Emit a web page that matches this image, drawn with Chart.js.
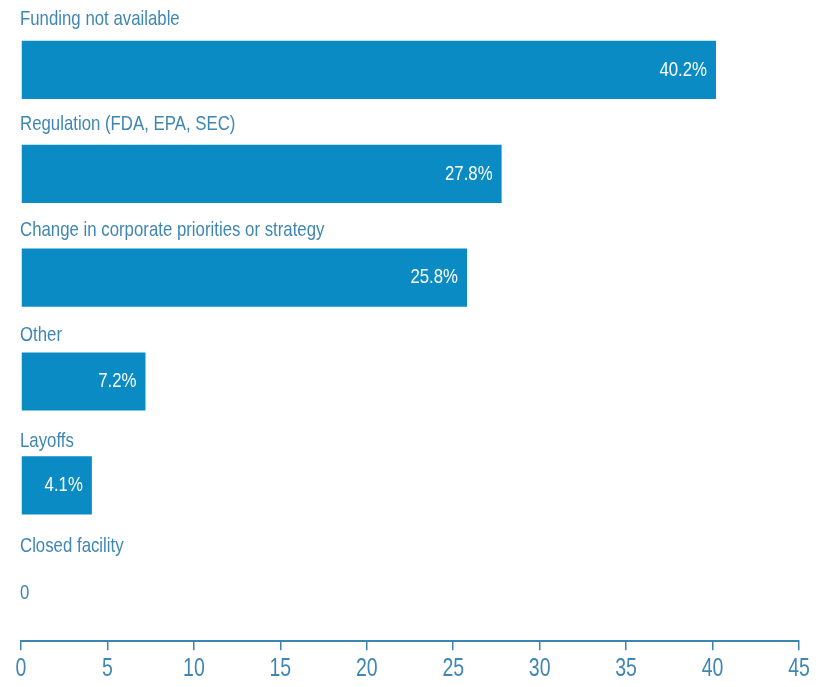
<!DOCTYPE html>
<html>
<head>
<meta charset="utf-8">
<script src="https://cdn.jsdelivr.net/npm/chart.js@4"></script>
<style>
  html, body { margin: 0; padding: 0; background: #fff; }
  #wrap { width: 827px; height: 687px; }
</style>
</head>
<body>
<div id="wrap"><canvas id="chart" width="827" height="687"></canvas></div>
<script>
  const categories = [
    "Funding not available",
    "Regulation (FDA, EPA, SEC)",
    "Change in corporate priorities or strategy",
    "Other",
    "Layoffs",
    "Closed facility"
  ];
  const values = [40.2, 27.8, 25.8, 7.2, 4.1, 0];
  const xTicks = [0, 5, 10, 15, 20, 25, 30, 35, 40, 45];

  const barColor = '#0a8bc3';
  const textColor = '#3f87b2';
  const fontFamily = "'Liberation Sans', Arial, sans-serif";

  // no narrow font installed, so squeeze the text horizontally
  function narrowText(ctx, text, x, y, squeeze) {
    ctx.save();
    ctx.translate(x, y);
    ctx.scale(squeeze, 1);
    ctx.fillText(text, 0, 0);
    ctx.restore();
  }

  const barLabels = {
    id: 'barLabels',
    afterDatasetsDraw(chart) {
      const ctx = chart.ctx;
      const meta = chart.getDatasetMeta(0);
      const xScale = chart.scales.x;
      ctx.save();
      ctx.textBaseline = 'middle';
      meta.data.forEach((bar, i) => {
        const top = bar.y - bar.height / 2;
        // labels sit a little closer to the bar further down the list
        const lift = 22 - 1.6 * i;
        ctx.font = "21px " + fontFamily;
        ctx.fillStyle = textColor;
        ctx.textAlign = 'left';
        narrowText(ctx, categories[i], xScale.left - 1, top - lift, 0.8);

        const v = values[i];
        if (v === 0) {
          narrowText(ctx, '0', xScale.left - 1, bar.y + 4, 0.8);
        } else {
          ctx.fillStyle = '#ffffff';
          ctx.textAlign = 'right';
          narrowText(ctx, v.toFixed(1) + '%', bar.x - 9, bar.y, 0.8);
        }
      });

      // x tick labels, placed by the scale
      ctx.font = "25px " + fontFamily;
      ctx.fillStyle = textColor;
      ctx.textAlign = 'center';
      xTicks.forEach(t => {
        narrowText(ctx, String(t), xScale.getPixelForValue(t), xScale.bottom - 18, 0.78);
      });
      ctx.restore();
    }
  };

  new Chart(document.getElementById('chart'), {
    type: 'bar',
    data: {
      labels: categories,
      datasets: [{
        data: values,
        backgroundColor: barColor,
        borderWidth: 0,
        barPercentage: 0.56,
        categoryPercentage: 1.0
      }]
    },
    options: {
      indexAxis: 'y',
      responsive: false,
      animation: false,
      layout: { padding: { left: 21, right: 28, top: 18, bottom: 0 } },
      plugins: { legend: { display: false }, tooltip: { enabled: false } },
      scales: {
        y: { display: false, offset: true },
        x: {
          min: 0,
          max: 45,
          afterBuildTicks(scale) { scale.ticks = xTicks.map(v => ({ value: v })); },
          border: { display: true, color: '#3a86b0', width: 2 },
          grid: { display: true, drawOnChartArea: false, drawTicks: true, tickLength: 9, color: '#3a86b0', lineWidth: 1.5 },
          ticks: { color: 'rgba(0,0,0,0)', padding: 4, font: { family: fontFamily, size: 24 } }
        }
      }
    },
    plugins: [barLabels]
  });
</script>
</body>
</html>
